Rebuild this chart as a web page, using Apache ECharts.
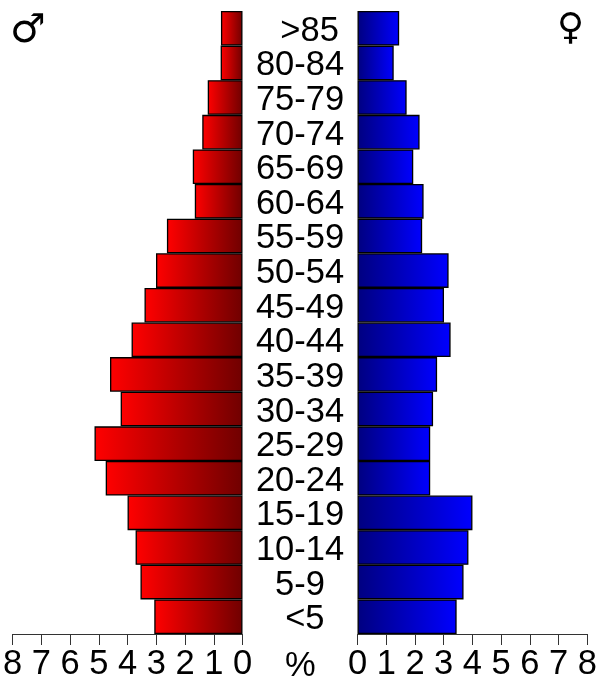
<!DOCTYPE html>
<html>
<head>
<meta charset="utf-8">
<style>html,body{margin:0;padding:0;background:#fff}#c{width:600px;height:692px}</style>
<script src="https://cdn.jsdelivr.net/npm/echarts@6/dist/echarts.min.js"></script>
</head>
<body>
<div id="c"></div>
<script>
const ageGroups = ['<5','5-9','10-14','15-19','20-24','25-29','30-34','35-39','40-44','45-49','50-54','55-59','60-64','65-69','70-74','75-79','80-84','>85'];
const maleValues = [3.07,3.55,3.72,4.00,4.76,5.15,4.24,4.61,3.86,3.41,3.01,2.63,1.66,1.73,1.40,1.21,0.76,0.75];
const femaleValues = [3.45,3.69,3.86,4.00,2.53,2.53,2.63,2.77,3.24,3.01,3.17,2.25,2.30,1.94,2.16,1.71,1.26,1.45];
const axisTicks = [0,1,2,3,4,5,6,7,8];

const font = '"Liberation Sans", Arial, sans-serif';
const fontSize = 34.5;
const labelIndent = {'<5':'\u00a0','>85':'\u00a0\u00a0'};
const grad = (a, b) => ({type:'linear',x:0,y:0,x2:1,y2:0,colorStops:[{offset:0,color:a},{offset:1,color:b}]});
const valueAxis = (idx, inverse) => ({
  type:'value', gridIndex:idx, inverse, min:axisTicks[0], max:axisTicks[axisTicks.length-1], interval:1,
  splitLine:{show:false},
  axisLine:{show:true,lineStyle:{color:'#333',width:1}},
  axisTick:{show:true,length:11,inside:false,lineStyle:{color:'#333',width:1}},
  axisLabel:{color:'#000',fontSize,fontFamily:font,margin:13,hideOverlap:false,showMinLabel:true,showMaxLabel:true}
});
const chart = echarts.init(document.getElementById('c'), null, {renderer:'canvas'});
chart.setOption({
  animation:false,
  backgroundColor:'#fff',
  grid:[
    {left:11,top:11,width:231.5,height:623},
    {left:357.5,top:11,width:230.5,height:623}
  ],
  xAxis:[valueAxis(0,true),valueAxis(1,false)],
  yAxis:[
    {type:'category',gridIndex:0,data:ageGroups,position:'right',
     axisLine:{show:false},axisTick:{show:false},
     axisLabel:{interval:0,color:'#000',fontSize,fontFamily:font,align:'center',margin:57.5,verticalAlign:'top',lineHeight:6,
       formatter:v=>(labelIndent[v]||'')+v}},
    {type:'category',gridIndex:1,data:ageGroups,
     axisLine:{show:false},axisTick:{show:false},axisLabel:{show:false}}
  ],
  series:[
    {type:'bar',xAxisIndex:0,yAxisIndex:0,data:maleValues,barWidth:'100%',silent:true,
     itemStyle:{color:grad('#ff0000','#700000'),borderColor:'#000',borderWidth:1.3}},
    {type:'bar',xAxisIndex:1,yAxisIndex:1,data:femaleValues,barWidth:'100%',silent:true,
     itemStyle:{color:grad('#000080','#0000ff'),borderColor:'#000',borderWidth:1.3}}
  ],
  graphic:[
    {type:'text',left:285,top:649,style:{text:'%',font:fontSize+'px '+font,fill:'#000'}},
    {type:'text',left:10,top:12,style:{text:'\u2642',font:'40px "DejaVu Sans"',fill:'#000'}},
    {type:'text',left:557,top:11,style:{text:'\u2640',font:'37px "DejaVu Sans"',fill:'#000'}}
  ]
});
</script>
</body>
</html>
